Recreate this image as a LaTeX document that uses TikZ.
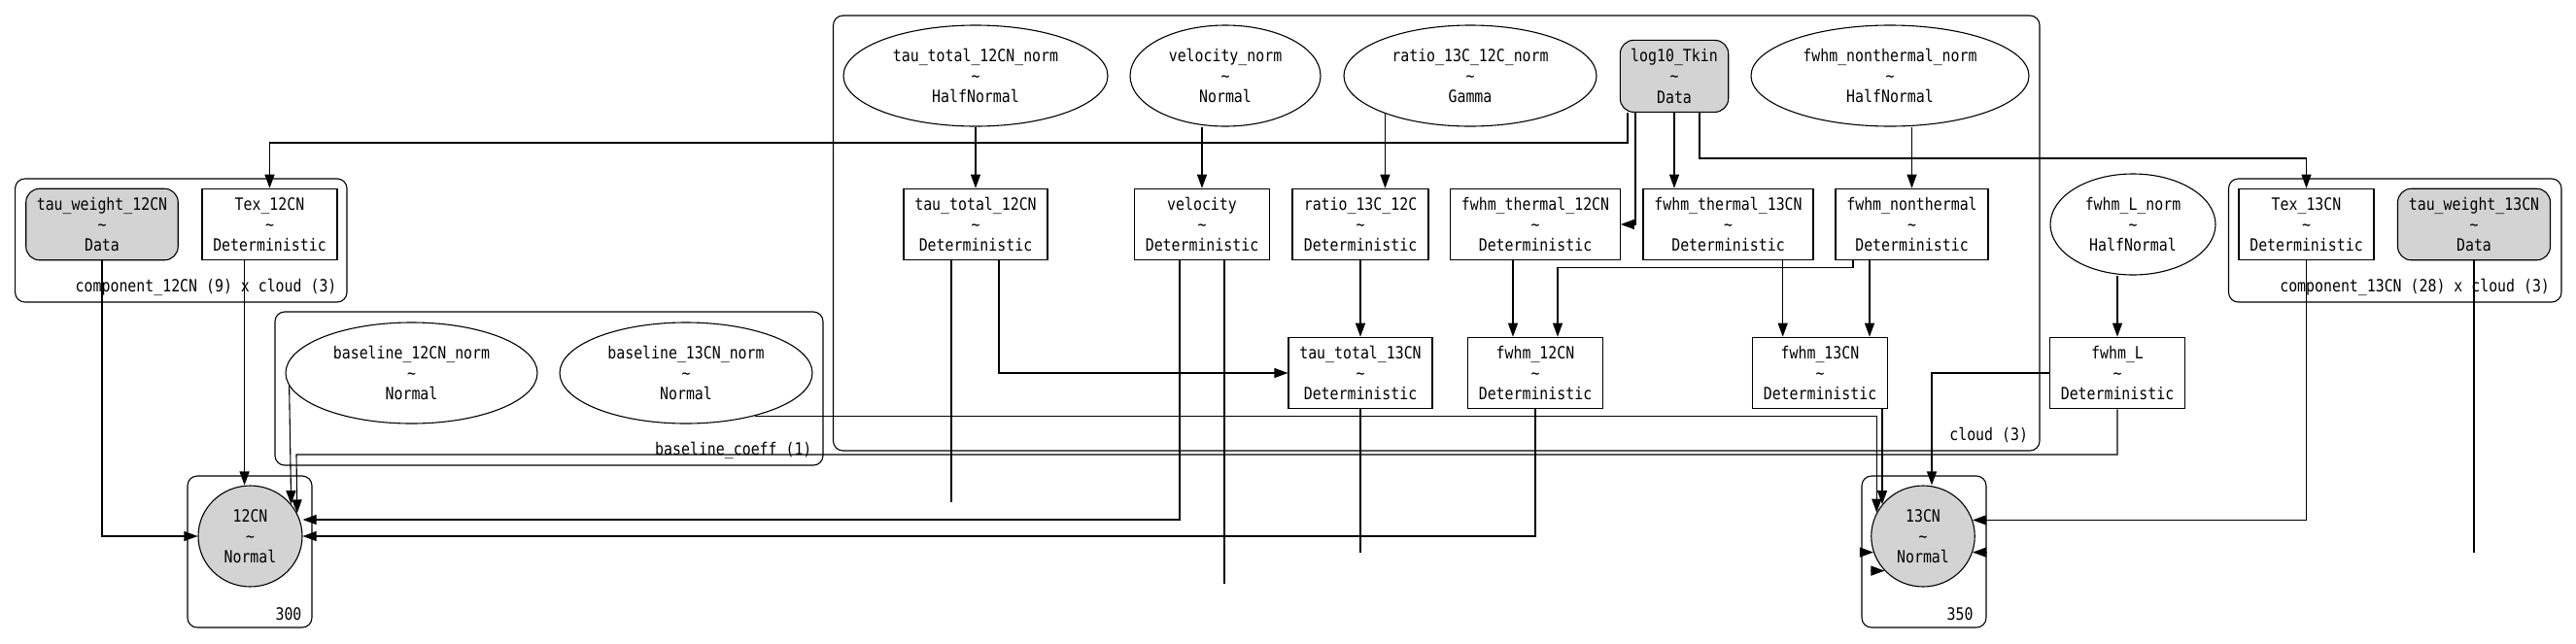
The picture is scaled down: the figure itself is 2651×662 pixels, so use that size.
\documentclass[tikz,border=0pt]{standalone}
\usepackage{fontspec}
\setmainfont{DejaVu Sans Mono}[FakeStretch=0.855]
\usetikzlibrary{shapes.geometric,arrows.meta}
\definecolor{obsgray}{HTML}{D3D3D3}
\tikzset{
  det/.style={draw, rectangle, minimum height=73.5pt, inner sep=0pt, align=center},
  rv/.style={draw, ellipse, minimum height=104pt, inner sep=0pt, align=center},
  obs/.style={rv, fill=obsgray},
  dat/.style={det, rounded corners=14pt, fill=obsgray},
  plate/.style={draw, rounded corners=10pt},
  platelabel/.style={anchor=east, inner sep=0pt},
  edge/.style={-{Triangle[length=14pt,width=10pt]}}
}
\begin{document}
\begin{tikzpicture}[x=1pt, y=-1pt, line width=1.1pt, font=\fontsize{17.4}{21.1}\selectfont]
    \useasboundingbox (0,0) rectangle (2651,662);
    \draw[plate] (15.6,184) rectangle (357,311);
    \draw[plate] (283,321) rectangle (847,479);
    \draw[plate] (857.5,16) rectangle (2099,464);
    \draw[plate] (193,490) rectangle (321,646);
    \draw[plate] (1916,490) rectangle (2044,646);
    \draw[plate] (2293.5,184) rectangle (2636,311);
    \node[platelabel] (lab12) at (347,296) {component\_12CN (9) x cloud (3)};
    \node[platelabel] (labbase) at (836,464) {baseline\_coeff (1)};
    \node[platelabel] (labcloud) at (2087.5,448) {cloud (3)};
    \node[platelabel] (lab300) at (311,632) {300};
    \node[platelabel] (lab350) at (2031,632) {350};
    \node[platelabel] (lab13) at (2624.5,296) {component\_13CN (28) x cloud (3)};

    \node[dat, minimum width=156.5pt] (tauw12) at (105,231) {tau\_weight\_12CN\\\textasciitilde\\Data};
    \node[det, minimum width=139pt] (tex12) at (277.5,231) {Tex\_12CN\\\textasciitilde\\Deterministic};
    \node[rv, minimum width=259pt] (base12) at (423.5,384) {baseline\_12CN\_norm\\\textasciitilde\\Normal};
    \node[rv, minimum width=260pt] (base13) at (706,384) {baseline\_13CN\_norm\\\textasciitilde\\Normal};
    \node[obs, minimum width=107pt] (obs12) at (257.5,552) {12CN\\\textasciitilde\\Normal};
    \node[rv, minimum width=272pt] (tau12norm) at (1004,78) {tau\_total\_12CN\_norm\\\textasciitilde\\HalfNormal};
    \node[rv, minimum width=196pt] (velnorm) at (1261,78) {velocity\_norm\\\textasciitilde\\Normal};
    \node[rv, minimum width=260pt] (rationorm) at (1513,78) {ratio\_13C\_12C\_norm\\\textasciitilde\\Gamma};
    \node[dat, minimum width=111.4pt, minimum height=74pt] (tkin) at (1723,78.4) {log10\_Tkin\\\textasciitilde\\Data};
    \node[rv, minimum width=286pt] (fntnorm) at (1945,78) {fwhm\_nonthermal\_norm\\\textasciitilde\\HalfNormal};
    \node[det, minimum width=148pt] (tau12) at (1004,231) {tau\_total\_12CN\\\textasciitilde\\Deterministic};
    \node[det, minimum width=138.5pt] (vel) at (1237,231) {velocity\\\textasciitilde\\Deterministic};
    \node[det, minimum width=140pt] (ratio) at (1400,231) {ratio\_13C\_12C\\\textasciitilde\\Deterministic};
    \node[det, minimum width=174.5pt] (fth12) at (1580,231) {fwhm\_thermal\_12CN\\\textasciitilde\\Deterministic};
    \node[det, minimum width=175pt] (fth13) at (1778.5,231) {fwhm\_thermal\_13CN\\\textasciitilde\\Deterministic};
    \node[det, minimum width=157pt] (fnt) at (1967.5,231) {fwhm\_nonthermal\\\textasciitilde\\Deterministic};
    \node[det, minimum width=148pt] (tau13) at (1400,384) {tau\_total\_13CN\\\textasciitilde\\Deterministic};
    \node[det, minimum width=139.5pt] (fwhm12) at (1580,384) {fwhm\_12CN\\\textasciitilde\\Deterministic};
    \node[det, minimum width=138.5pt] (fwhm13) at (1873,384) {fwhm\_13CN\\\textasciitilde\\Deterministic};
    \node[rv, minimum width=170pt] (fLnorm) at (2195,231) {fwhm\_L\_norm\\\textasciitilde\\HalfNormal};
    \node[det, minimum width=138.5pt] (fL) at (2179,384) {fwhm\_L\\\textasciitilde\\Deterministic};
    \node[det, minimum width=139pt] (tex13) at (2373.5,231) {Tex\_13CN\\\textasciitilde\\Deterministic};
    \node[dat, minimum width=157pt] (tauw13) at (2546,231) {tau\_weight\_13CN\\\textasciitilde\\Data};
    \node[obs, minimum width=106.5pt] (obs13) at (1979,552) {13CN\\\textasciitilde\\Normal};

    \coordinate (k1) at (1675,147);
    \coordinate (k2) at (1683,231);
    \coordinate (k4) at (1749,163);
    \coordinate (k11) at (1557,300);
    \coordinate (k12) at (1907,275.7);
    \coordinate (k12b) at (1603,300);
    \coordinate (k13) at (1834.7,300);
    \coordinate (k14) at (1924,300);
    \coordinate (k15) at (1028,384);
    \coordinate (k17) at (1214,535);
    \coordinate (k24) at (305,468);
    \coordinate (k27) at (251.6,450);
    \coordinate (end1) at (979,516.7);
    \coordinate (end2) at (1260,601);
    \coordinate (end3) at (1400,568.7);
    \coordinate (end4) at (2546,568.7);

    \draw[edge] (tkin.south -| k1) -- (k1) -| (tex12.north);
    \draw[edge] (tkin.south -| k2) -- (k2) -- (fth12.east);
    \draw[edge] (tkin) -- (tkin |- fth13.north);
    \draw[edge] (tkin.south -| k4) -- (k4) -| (tex13.north);
    \draw[edge] (tau12norm) -- (tau12);
    \draw[edge] (vel |- velnorm.south) -- (vel.north);
    \draw[edge] (rationorm.204) -- (rationorm.204 |- ratio.north);
    \draw[edge] (fnt |- fntnorm.south) -- (fnt.north);
    \draw[edge] (fL |- fLnorm.south) -- (fL.north);
    \draw[edge] (ratio) -- (tau13);
    \draw[edge] (fth12.south -| k11) -- (fwhm12.north -| k11);
    \draw[edge] (fnt.south -| k12) -- (k12) -| (fwhm12.north -| k12b);
    \draw[edge] (fth13.south -| k13) -- (fwhm13.north -| k13);
    \draw[edge] (fnt.south -| k14) -- (fwhm13.north -| k14);
    \draw[edge] (tau12.south -| k15) |- (tau13.west);
    \draw (tau12.south -| end1) -- (end1);
    \draw[edge] (vel.south -| k17) -- (k17) -- (k17 -| obs12.east);
    \draw (vel.south -| end2) -- (end2);
    \draw[edge] (fwhm12) |- (obs12.east);
    \draw (tau13.south) -- (end3);
    \draw[edge] (fwhm13.south -| obs13.142.7) -- (obs13.142.7);
    \draw[edge] (base13.-32.5) -| (obs13.153.7);
    \draw[edge] (fL.west) -| ([xshift=9pt]obs13.north);
    \draw[edge] (fL) |- (k24) -- (obs12.26.8);
    \draw[edge] (base12.186.55) -- (obs12.38.3);
    \draw[edge] (tauw12) |- (obs12.west);
    \draw[edge] (tex12.south -| k27) -- (obs12.north -| k27);
    \draw[edge] (tex13) |- (obs13.18.6);
    \draw (tauw13.south) -- (end4);
    \draw[edge] ([xshift=-14pt]obs13.198.3) -- (obs13.198.3);
    \draw[edge] ([xshift=-14pt]obs13.222.7) -- (obs13.222.7);
    \draw[edge] ([xshift=14pt]obs13.-18.3) -- (obs13.-18.3);
\end{tikzpicture}
\end{document}
